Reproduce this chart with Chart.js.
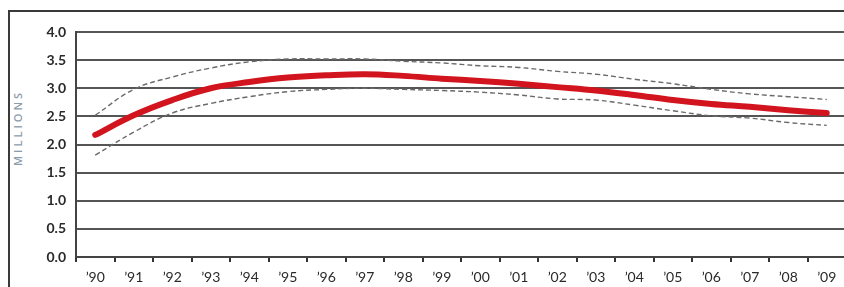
<!DOCTYPE html>
<html>
<head>
<meta charset="utf-8">
<script src="https://cdn.jsdelivr.net/npm/chart.js@4"></script>
<style>
  html, body { margin: 0; padding: 0; background: #fff; overflow: hidden; }
  body { width: 844px; height: 287px; position: relative; }
  #frame {
    position: absolute; left: 8px; top: 10px; width: 900px; height: 300px;
    border-left: 2px solid #3a3a3a; border-top: 2px solid #3a3a3a;
  }
  #wrap { position: absolute; left: 0; top: 0; width: 870px; height: 287px; }
  #yTitle {
    position: absolute; left: 17px; top: 128px;
    transform: translate(-50%, -50%) rotate(-90deg);
    font: 600 11px "Open Sans", sans-serif; letter-spacing: 3px;
    color: #8d9cab; white-space: nowrap;
  }
</style>
</head>
<body>
<div id="frame"></div>
<div id="yTitle">MILLIONS</div>
<div id="wrap"><canvas id="chart"></canvas></div>
<script>
const years = ['’90', '’91', '’92', '’93', '’94', '’95', '’96', '’97', '’98', '’99',
               '’00', '’01', '’02', '’03', '’04', '’05', '’06', '’07', '’08', '’09'];
const estimate = [2.17, 2.52, 2.79, 3.00, 3.11, 3.19, 3.23, 3.25, 3.22, 3.17,
                  3.13, 3.08, 3.02, 2.96, 2.88, 2.79, 2.72, 2.67, 2.61, 2.56];
const upperBound = [2.52, 2.98, 3.20, 3.36, 3.47, 3.52, 3.52, 3.52, 3.48, 3.45,
                    3.40, 3.37, 3.30, 3.25, 3.16, 3.08, 2.98, 2.90, 2.85, 2.80];
const lowerBound = [1.81, 2.22, 2.56, 2.73, 2.85, 2.94, 2.98, 3.00, 2.98, 2.96,
                    2.93, 2.88, 2.81, 2.79, 2.70, 2.60, 2.51, 2.47, 2.39, 2.34];

const tickFont = { family: 'Lato, sans-serif', size: 14 };

function dashed(data) {
  return {
    data, borderColor: '#6a6a6a', borderWidth: 1.4, borderDash: [5, 3],
    pointRadius: 0, tension: 0.4, fill: false
  };
}

new Chart(document.getElementById('chart'), {
  type: 'line',
  data: {
    labels: years,
    datasets: [
      { data: estimate, borderColor: '#d2141e', borderWidth: 6, pointRadius: 0,
        tension: 0.4, borderCapStyle: 'round', fill: false, order: 0 },
      dashed(upperBound),
      dashed(lowerBound)
    ]
  },
  options: {
    responsive: true,
    maintainAspectRatio: false,
    animation: false,
    layout: { padding: { top: 32, right: 24, left: 0, bottom: 0 } },
    plugins: { legend: { display: false }, tooltip: { enabled: false } },
    scales: {
      x: {
        offset: true,
        grid: { offset: true, drawOnChartArea: false, drawTicks: true, tickLength: 5,
                color: '#333', lineWidth: 2 },
        border: { display: true, color: '#444', width: 2 },
        ticks: { color: '#2a2a2a', font: tickFont, padding: 7, maxRotation: 0, autoSkip: false },
        afterFit: (s) => { s.height = 30; }
      },
      y: {
        min: 0, max: 4,
        ticks: { stepSize: 0.5, color: '#2a2a2a', font: { ...tickFont, weight: 'bold' }, padding: 10,
                 callback: (v) => v.toFixed(1) },
        grid: { color: '#555', lineWidth: 2, drawTicks: false },
        border: { display: true, color: '#444', width: 2 },
        afterFit: (s) => { s.width = 76; }
      }
    }
  }
});
</script>
</body>
</html>
